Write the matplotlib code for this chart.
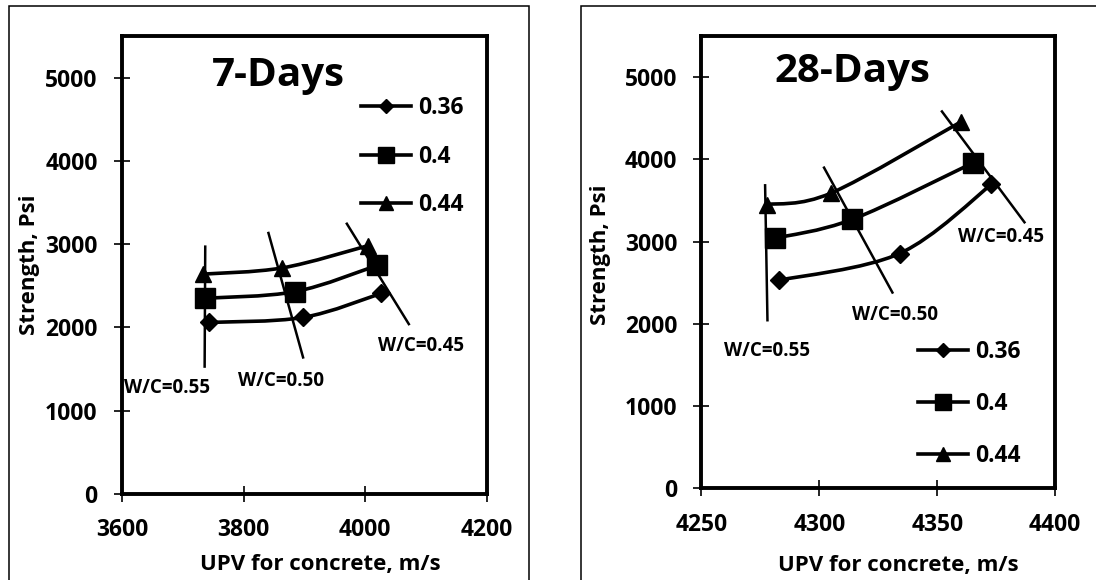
import numpy as np
import matplotlib
matplotlib.use("Agg")
import matplotlib.pyplot as plt
from matplotlib.path import Path
from matplotlib.patches import PathPatch, Rectangle
from matplotlib.lines import Line2D

plt.rcParams['font.family'] = ['Open Sans', 'DejaVu Sans']
plt.rcParams['font.weight'] = 'bold'

# 7-day results: UPV (m/s) and strength (psi) for each mix
upv7_036 = [3744, 3898, 4027]
str7_036 = [2060, 2120, 2410]
upv7_040 = [3736, 3885, 4020]
str7_040 = [2350, 2430, 2745]
upv7_044 = [3733, 3864, 4004]
str7_044 = [2640, 2715, 2980]

# 28-day results
upv28_036 = [4283, 4334, 4373]
str28_036 = [2530, 2855, 3695]
upv28_040 = [4281, 4314, 4365]
str28_040 = [3040, 3270, 3955]
upv28_044 = [4278, 4305, 4360]
str28_044 = [3450, 3590, 4455]

series_labels = ['0.36', '0.4', '0.44']

# constant W/C guide lines (end points) and their labels
wc_labels = ['W/C=0.55', 'W/C=0.50', 'W/C=0.45']
wc7_x = [[3737, 3736], [3841, 3898], [3970, 4072]]
wc7_y = [[2970, 1530], [3134, 1640], [3245, 2040]]
wc7_text_x = [3674, 3861, 4092]
wc7_text_y = [1272, 1361, 1773]

wc28_x = [[4277, 4278], [4302, 4331], [4352, 4387]]
wc28_y = [[3684, 2044], [3899, 2381], [4582, 3235]]
wc28_text_x = [4278, 4332, 4377]
wc28_text_y = [1676, 2111, 3055]

markers = ['D', 's', '^']
msizes = [9, 14.5, 12]


def smooth_path(xs, ys):
    # Catmull-Rom style bezier through the points (like Excel's smoothed line)
    pts = np.column_stack([xs, ys]).astype(float)
    n = len(pts)
    verts = [pts[0]]
    codes = [Path.MOVETO]
    for i in range(n - 1):
        p0 = pts[max(i - 1, 0)]
        p1 = pts[i]
        p2 = pts[i + 1]
        p3 = pts[min(i + 2, n - 1)]
        verts += [p1 + (p2 - p0) / 6, p2 - (p3 - p1) / 6, p2]
        codes += [Path.CURVE4] * 3
    return Path(verts, codes)


def draw_panel(ax, data, wc_x, wc_y, wc_tx, wc_ty, xlim, xticks, title, title_x, title_y):
    for (xs, ys), m, ms in zip(data, markers, msizes):
        ax.add_patch(PathPatch(smooth_path(xs, ys), fill=False, lw=2.6,
                               edgecolor='black', zorder=3))
        ax.plot(xs, ys, ls='none', marker=m, ms=ms, color='black', zorder=4)
    for lx, ly in zip(wc_x, wc_y):
        ax.plot(lx, ly, color='black', lw=1.8, zorder=5)
    for lab, tx, ty in zip(wc_labels, wc_tx, wc_ty):
        ax.text(tx, ty, lab, ha='center', va='center', fontsize=13.5,
                fontweight='bold', zorder=2)
    ax.text(title_x, title_y, title, ha='center', va='baseline',
            fontsize=29, fontweight='bold')
    ax.set_xlim(*xlim)
    ax.set_ylim(0, 5500)
    ax.set_xticks(xticks)
    ax.set_yticks([0, 1000, 2000, 3000, 4000, 5000])
    ax.tick_params(direction='inout', length=11, width=1.2, labelsize=16.5, pad=12)
    for lab in ax.get_xticklabels() + ax.get_yticklabels():
        lab.set_fontweight('bold')
    for sp in ax.spines.values():
        sp.set_linewidth(2.8)
    ax.set_xlabel('UPV for concrete, m/s', fontsize=16, fontweight='bold', va='center')
    ax.set_ylabel('Strength, Psi', fontsize=16, fontweight='bold', va='center')


fig = plt.figure(figsize=(10.96, 5.8), dpi=100)

# panel frames
fig.patches.append(Rectangle((0.0078, -0.05), 0.4745, 1.0405, transform=fig.transFigure,
                             fill=False, lw=1.1, edgecolor='black'))
fig.patches.append(Rectangle((0.530, -0.05), 0.6, 1.0405, transform=fig.transFigure,
                             fill=False, lw=1.1, edgecolor='black'))

ax1 = fig.add_axes([0.1113, 0.1483, 0.3327, 0.7897])
ax2 = fig.add_axes([0.640, 0.158, 0.3227, 0.780])

draw_panel(ax1, [(upv7_036, str7_036), (upv7_040, str7_040), (upv7_044, str7_044)],
           wc7_x, wc7_y, wc7_text_x, wc7_text_y, (3600, 4200), [3600, 3800, 4000, 4200],
           '7-Days', 3858, 4898)
draw_panel(ax2, [(upv28_036, str28_036), (upv28_040, str28_040), (upv28_044, str28_044)],
           wc28_x, wc28_y, wc28_text_x, wc28_text_y, (4250, 4400), [4250, 4300, 4350, 4400],
           '28-Days', 4314, 4942)

ax1.xaxis.set_label_coords(0.543, -0.155)
ax1.yaxis.set_label_coords(-0.255, 0.50)
ax2.xaxis.set_label_coords(0.556, -0.170)
ax2.yaxis.set_label_coords(-0.284, 0.516)

handles = [Line2D([], [], color='black', lw=2.6, marker=m, ms=ms * 0.82)
           for m, ms in zip(markers, msizes)]
leg_kw = dict(frameon=False, loc='upper left', borderpad=0, borderaxespad=0,
              handlelength=2.2, handletextpad=0.3,
              prop={'size': 16.5, 'weight': 'bold'})
ax1.legend(handles, series_labels, bbox_to_anchor=(0.655, 0.868), labelspacing=1.07, **leg_kw)
ax2.legend(handles, series_labels, bbox_to_anchor=(0.612, 0.328), labelspacing=1.23, **leg_kw)

fig.savefig('out.png', dpi=100)
